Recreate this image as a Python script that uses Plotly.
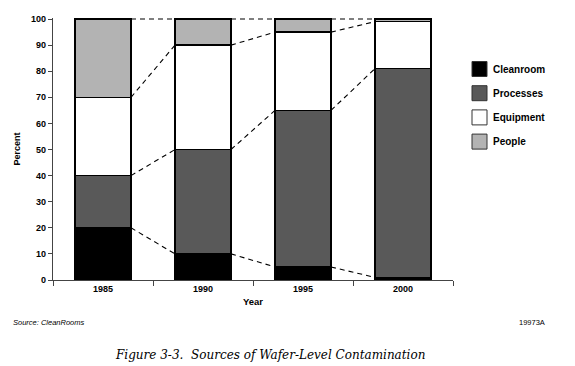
import plotly.graph_objects as go

years = ["1985", "1990", "1995", "2000"]
cleanroom = [20, 10, 5, 1]
processes = [20, 40, 60, 80]
equipment = [30, 40, 30, 18]
people = [30, 10, 5, 1]

series = [
    ("Cleanroom", cleanroom, "#000000"),
    ("Processes", processes, "#595959"),
    ("Equipment", equipment, "#ffffff"),
    ("People", people, "#b3b3b3"),
]

BAR_W = 0.56
FONT = "Liberation Sans, Arial, sans-serif"

# plot-area pixel geometry (figure 575x366)
L, R, T, B = 53, 453, 18, 280
def px_x(px):
    return (px - L) / (R - L)
def px_y(py):
    return (B - py) / (B - T)

fig = go.Figure()
for name, vals, color in series:
    fig.add_trace(go.Bar(
        x=years, y=vals, name=name, showlegend=False,
        marker=dict(color=color, line=dict(color="#000000", width=1.5)),
        width=BAR_W, hoverinfo="skip",
    ))

# dashed connector lines between stacked boundaries
cum = [[0] * len(years)]
for _, vals, _ in series:
    prev = cum[-1]
    cum.append([p + v for p, v in zip(prev, vals)])
shapes = []
for level in cum[1:]:
    for i in range(len(years) - 1):
        shapes.append(dict(
            type="line", xref="x", yref="y",
            x0=i + BAR_W / 2, y0=level[i], x1=i + 1 - BAR_W / 2, y1=level[i + 1],
            line=dict(color="#000000", width=1.1, dash="5px,4px"), layer="below",
        ))

annotations = []
# custom legend
LEG_X0, LEG_SIZE, LEG_Y0, LEG_STEP = 472, 15, 69, 24.2
for k, (name, _, color) in enumerate(series):
    cy = LEG_Y0 + k * LEG_STEP
    shapes.append(dict(
        type="rect", xref="paper", yref="paper",
        x0=px_x(LEG_X0), x1=px_x(LEG_X0 + LEG_SIZE),
        y0=px_y(cy - LEG_SIZE / 2), y1=px_y(cy + LEG_SIZE / 2),
        fillcolor=color, line=dict(color="#333333", width=1),
    ))
    annotations.append(dict(
        text=name, xref="paper", yref="paper",
        x=px_x(LEG_X0 + LEG_SIZE + 4), y=px_y(cy), xanchor="left", yanchor="middle",
        showarrow=False, font=dict(size=10, family=FONT, weight="bold"),
    ))

annotations += [
    dict(text="Source: CleanRooms", xref="paper", yref="paper",
         x=px_x(11), y=px_y(323), xanchor="left", yanchor="middle", showarrow=False,
         font=dict(size=7.5, family=FONT, style="italic")),
    dict(text="19973A", xref="paper", yref="paper",
         x=px_x(547), y=px_y(323), xanchor="right", yanchor="middle", showarrow=False,
         font=dict(size=7.5, family=FONT)),
    dict(text="Figure 3-3.  Sources of Wafer-Level Contamination", xref="paper", yref="paper",
         x=px_x(270), y=px_y(355), xanchor="center", yanchor="middle", showarrow=False,
         font=dict(size=12, family="DejaVu Serif, serif", style="italic")),
]

fig.update_layout(
    width=575, height=366,
    margin=dict(l=L, r=575 - R, t=T, b=366 - B, autoexpand=False),
    paper_bgcolor="white", plot_bgcolor="white",
    barmode="stack", bargap=0.44,
    shapes=shapes, annotations=annotations,
    font=dict(family=FONT, color="#000000"),
    showlegend=False, hovermode=False,
    xaxis=dict(
        type="category", range=[-0.5, 3.5],
        showline=True, linecolor="#444444", linewidth=1.3,
        ticks="outside", tickson="boundaries", ticklen=5, tickcolor="#444444",
        tickfont=dict(size=9, family=FONT, weight="bold"),
        title=dict(text="Year", font=dict(size=9.5, family=FONT, weight="bold"), standoff=5),
        showgrid=False,
    ),
    yaxis=dict(
        range=[0, 100.4], tickvals=list(range(0, 101, 10)),
        showline=True, linecolor="#444444", linewidth=1.3,
        ticks="outside", ticklen=4, tickcolor="#444444",
        tickfont=dict(size=9, family=FONT, weight="bold"),
        title=dict(text="Percent", font=dict(size=9, family=FONT, weight="bold"), standoff=8),
        showgrid=False, zeroline=False,
    ),
)

fig.write_html("out.html", config={"displayModeBar": False},
               post_script="document.body.style.margin='0px';")
